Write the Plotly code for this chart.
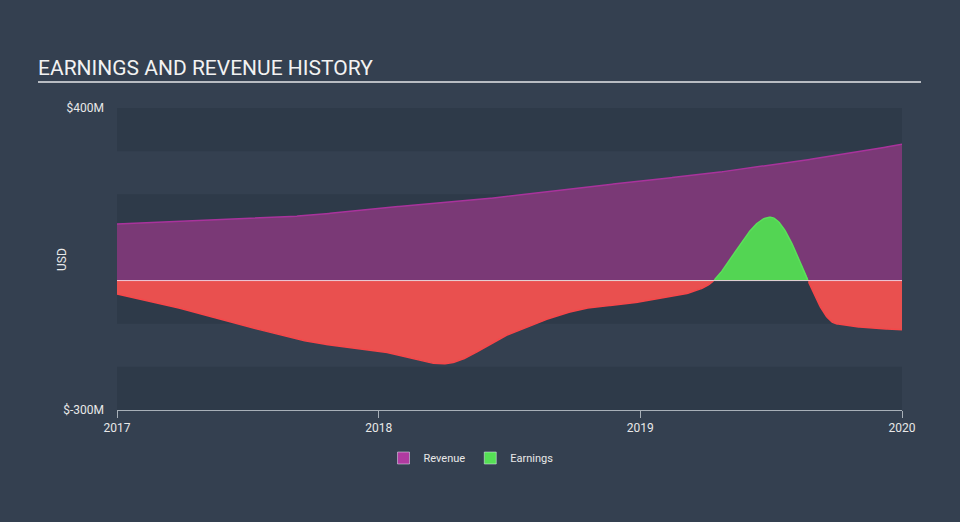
import numpy as np
import pandas as pd
import plotly.graph_objects as go

# ---- data (USD millions, quarterly) ----
dates = ["2017-01-01", "2017-04-01", "2017-07-01", "2017-10-01",
         "2018-01-01", "2018-04-01", "2018-07-01", "2018-10-01",
         "2019-01-01", "2019-04-01", "2019-07-01", "2019-10-01",
         "2020-01-01"]
revenue = [131, 137, 143, 152, 168, 180, 195, 213, 231, 247, 268, 290, 316]
earnings = [-31, -65, -106, -143, -163, -193, -125, -70, -49, -15, 147, -100, -114]
tick_years = ["2017", "2018", "2019", "2020"]
y_ticks = [400, -300]
y_tick_labels = ["$400M", "$-300M"]
band_ranges = [(300, 400), (-100, 200), (-300, -200)]


def monotone_interp(x, y, n=800):
    x = np.asarray(x, float)
    y = np.asarray(y, float)
    h = np.diff(x)
    s = np.diff(y) / h
    m = np.zeros_like(y)
    for k in range(1, len(y) - 1):
        p = (s[k - 1] * h[k] + s[k] * h[k - 1]) / (h[k - 1] + h[k])
        m[k] = (np.sign(s[k - 1]) + np.sign(s[k])) * min(abs(s[k - 1]), abs(s[k]), 0.5 * abs(p))
    m[0] = (3 * s[0] - m[1]) / 2
    m[-1] = (3 * s[-1] - m[-2]) / 2
    xs = np.linspace(x[0], x[-1], n)
    idx = np.clip(np.searchsorted(x, xs, side="right") - 1, 0, len(x) - 2)
    hh = h[idx]
    t = (xs - x[idx]) / hh
    h00 = 2 * t**3 - 3 * t**2 + 1
    h10 = t**3 - 2 * t**2 + t
    h01 = -2 * t**3 + 3 * t**2
    h11 = t**3 - t**2
    ys = h00 * y[idx] + h10 * hh * m[idx] + h01 * y[idx + 1] + h11 * hh * m[idx + 1]
    return xs, ys


dt = pd.to_datetime(dates)
xnum = dt.astype("int64").to_numpy().astype(float)
xs_r, ys_r = monotone_interp(xnum, revenue)
xs_e, ys_e = monotone_interp(xnum, earnings)
xd_r = pd.to_datetime(xs_r.astype("int64"))
xd_e = pd.to_datetime(xs_e.astype("int64"))

pos = np.maximum(ys_e, 0)
neg = np.minimum(ys_e, 0)
pos_line = np.where(ys_e > 0, ys_e, np.nan)
neg_line = np.where(ys_e < 0, ys_e, np.nan)

PURPLE_FILL = "#7a3976"
PURPLE_LINE = "#a9339c"
RED_FILL = "#e9504f"
RED_LINE = "#f5474a"
GREEN_FILL = "#53d553"
GREEN_LINE = "#5ae05a"

fig = go.Figure()
fig.add_trace(go.Scatter(x=xd_r, y=ys_r, mode="lines", fill="tozeroy",
                         fillcolor=PURPLE_FILL, line=dict(color=PURPLE_LINE, width=1.5),
                         showlegend=False, hoverinfo="skip"))
fig.add_trace(go.Scatter(x=xd_e, y=neg, mode="lines", fill="tozeroy",
                         fillcolor=RED_FILL, line=dict(width=0),
                         showlegend=False, hoverinfo="skip"))
fig.add_trace(go.Scatter(x=xd_e, y=pos, mode="lines", fill="tozeroy",
                         fillcolor=GREEN_FILL, line=dict(width=0),
                         showlegend=False, hoverinfo="skip"))
fig.add_trace(go.Scatter(x=xd_e, y=neg_line, mode="lines",
                         line=dict(color=RED_LINE, width=1.5),
                         showlegend=False, hoverinfo="skip"))
fig.add_trace(go.Scatter(x=xd_e, y=pos_line, mode="lines",
                         line=dict(color=GREEN_LINE, width=1.5),
                         showlegend=False, hoverinfo="skip"))
# legend entries
fig.add_trace(go.Bar(x=[None], y=[None], name="Revenue", marker_color="#b03aa0"))
fig.add_trace(go.Bar(x=[None], y=[None], name="Earnings", marker_color="#55e055"))

shapes = []
for lo, hi in band_ranges:
    shapes.append(dict(type="rect", xref="paper", yref="y", x0=0, x1=1, y0=lo, y1=hi,
                       fillcolor="#2e3a49", line=dict(width=0), layer="below"))
shapes.append(dict(type="line", xref="paper", yref="y", x0=0, x1=1, y0=0, y1=0,
                   line=dict(color="rgba(255,225,240,0.85)", width=1), layer="above"))
shapes.append(dict(type="line", xref="paper", yref="paper",
                   x0=(38 - 117) / 785, x1=(921 - 117) / 785,
                   y0=(410 - 82) / 302, y1=(410 - 82) / 302,
                   line=dict(color="#b8bcc2", width=2)))

fig.update_layout(
    width=960, height=522,
    margin=dict(l=117, r=58, t=108, b=112),
    paper_bgcolor="#344050", plot_bgcolor="#344050",
    font=dict(family="Roboto", color="#e8e8e8", size=12),
    shapes=shapes,
    showlegend=True,
    legend=dict(orientation="h", x=(471 - 117) / 785, xanchor="center",
                y=(410 - 458) / 302, yanchor="middle",
                font=dict(size=11, color="#e8e8e8"), bgcolor="rgba(0,0,0,0)"),
    annotations=[
        dict(text="EARNINGS AND REVENUE HISTORY", xref="paper", yref="paper",
             x=(36 - 117) / 785, y=(410 - 68) / 302, xanchor="left", yanchor="middle",
             showarrow=False, font=dict(size=21, color="#f2f2f2")),
        dict(text="USD", xref="paper", yref="paper", x=(62 - 117) / 785, y=(410 - 260) / 302,
             xanchor="center", yanchor="middle", textangle=-90, showarrow=False,
             font=dict(size=12, color="#e8e8e8")),
    ],
    bargap=0.5,
)
fig.update_xaxes(
    type="date",
    range=[pd.Timestamp(dates[0]), pd.Timestamp(dates[-1])],
    tickvals=[pd.Timestamp(y + "-01-01") for y in tick_years],
    ticktext=tick_years,
    showgrid=False, zeroline=False,
    showline=True, linecolor="#a8b0b8", linewidth=1,
    ticks="outside", ticklen=7, tickcolor="#a8b0b8",
    tickfont=dict(size=12, color="#e8e8e8"),
)
fig.update_yaxes(
    range=[-300, 400],
    tickvals=y_ticks, ticktext=y_tick_labels,
    showgrid=False, zeroline=False, showline=False,
    ticks="", ticklabelstandoff=12,
    tickfont=dict(size=12, color="#e8e8e8"),
)

fig.write_html("out.html")
